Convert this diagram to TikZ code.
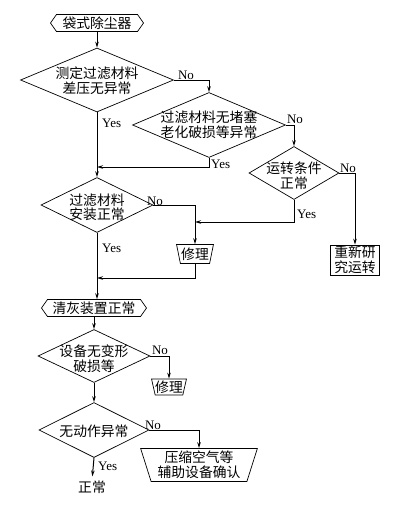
\documentclass[tikz,border=0pt]{standalone}
\usepackage{fontspec}
\setmainfont{Liberation Serif}
\newfontfamily\cjk{Noto Sans CJK SC}
\usetikzlibrary{shapes.geometric,shapes.symbols,arrows.meta}
\begin{document}
\begin{tikzpicture}[x=1pt,y=-1pt,
  shp/.style={draw, line width=0.7pt, inner sep=0pt},
  dia/.style={shp, diamond},
  hexa/.style={shp, signal, signal to=west and east, signal pointer angle=110},
  trap/.style={shp, trapezium, shape border rotate=180, trapezium stretches=true, font=\cjk\fontsize{13.8}{15}\selectfont, align=center},
  txt/.style={font=\cjk\fontsize{13.8}{15}\selectfont, align=center, inner sep=0pt},
  lab/.style={font=\fontsize{13}{13}\selectfont, inner sep=0pt},
  con/.style={line width=1pt, -{Stealth[length=6pt, width=3.5pt]}},
  ln/.style={line width=1pt}]
\fill[white] (0,0) rectangle (406,512);
\useasboundingbox (0,0) rectangle (406,512);

% shapes
\node[hexa, minimum width=93pt, minimum height=17pt] (h1) at (97,23) {};
\node[txt] (h1t) at (97,23) {袋式除尘器};

\node[dia, minimum width=153pt, minimum height=64pt] (d1) at (97,80) {};
\node[txt] (d1t) at (97,80.5) {测定过滤材料\\差压无异常};

\node[dia, minimum width=153pt, minimum height=65pt] (d2) at (209,125) {};
\node[txt] (d2t) at (209,124.5) {过滤材料无堵塞\\老化破损等异常};

\node[dia, minimum width=90pt, minimum height=53pt] (d4) at (294,173) {};
\node[txt] (d4t) at (294,176) {运转条件\\正常};

\node[dia, minimum width=112pt, minimum height=55pt] (d3) at (97,205) {};
\node[txt, font=\cjk\fontsize{13.8}{14}\selectfont] (d3t) at (97,207.5) {过滤材料\\安装正常};

\node[trap, trapezium left angle=74, trapezium right angle=74, minimum width=37pt, minimum height=19pt] (r1) at (195,254) {修理};

\node[shp, rectangle, minimum width=49pt, minimum height=30pt] (bx) at (355,260) {};
\node[txt] (bxt) at (355,260) {重新研\\究运转};

\node[hexa, minimum width=105pt, minimum height=17pt] (h2) at (94,308) {};
\node[txt] (h2t) at (94,308) {清灰装置正常};

\node[dia, minimum width=112pt, minimum height=53pt] (d5) at (94,356) {};
\node[txt] (d5t) at (94,359) {设备无变形\\破损等};

\node[trap, trapezium left angle=74, trapezium right angle=74, minimum width=35pt, minimum height=16pt] (r2) at (169,387) {修理};

\node[dia, minimum width=110pt, minimum height=55pt] (d6) at (94,430) {};
\node[txt] (d6t) at (94,431) {无动作异常};

\node[trap, trapezium left angle=72, trapezium right angle=72, minimum width=117pt, minimum height=33pt] (tp) at (199,465) {压缩空气等\\辅助设备确认};

\node[txt] (ok) at (92,487) {正常};

% join points
\coordinate (j1) at (97,167);
\coordinate (j2) at (195,222);
\coordinate (j3) at (97,278);

% connectors
\draw[con] (h1.south) -- (d1.north);
\draw[con] (d1.east) -| (d2.north);
\draw[con] (d2.east) -| (d4.north);
\draw[con] (d2.south) |- (j1);
\draw[con] (d1.south) -- (d3.north);
\draw[con] (d3.east) -| (r1.north);
\draw[con] (d4.south) |- (j2);
\draw[con] (d4.east) -| (bx.north);
\draw[con] (r1.south) |- (j3);
\draw[con] (d3.south) -- (d3.south |- h2.north);
\draw[con] (h2.south) -- (d5.north);
\draw[con] (d5.east) -| (r2.north);
\draw[con] (d5.south) -- (d6.north);
\draw[con] (d6.east) -| (tp.north);
\draw[con, shorten >=4pt] (d6.south) -- (ok.north);

% labels
\node[lab, anchor=south] (n1) at (186,80) {No};
\node[lab, anchor=west] (y1) at (102,123) {Yes};
\node[lab, anchor=south] (n2) at (295,124) {No};
\node[lab, anchor=west] (y2) at (211,164) {Yes};
\node[lab, anchor=south] (n3) at (155,206) {No};
\node[lab, anchor=west] (y3) at (102,248) {Yes};
\node[lab, anchor=south] (n4) at (348,173) {No};
\node[lab, anchor=west] (y4) at (297,214) {Yes};
\node[lab, anchor=south] (n5) at (160,355) {No};
\node[lab, anchor=south] (n6) at (153,430) {No};
\node[lab, anchor=west] (y6) at (98,466) {Yes};
\end{tikzpicture}
\end{document}
